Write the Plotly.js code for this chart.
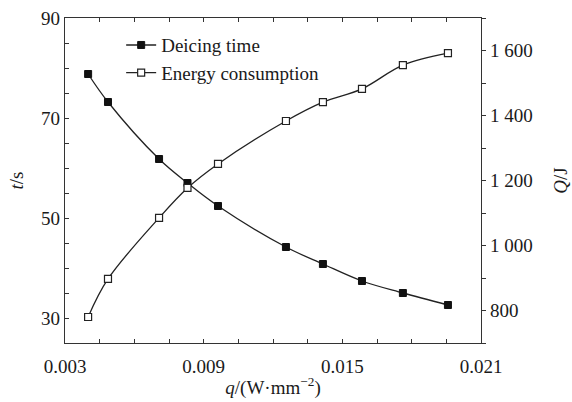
<!DOCTYPE html>
<html>
<head>
<meta charset="utf-8">
<script src="https://cdn.plot.ly/plotly-3.0.1.min.js"></script>
<style>html,body{margin:0;padding:0;background:#fff;}#chart{width:572px;height:402px;}</style>
</head>
<body>
<div id="chart"></div>
<script>
// Heat flux density q (W·mm^-2)
const qValues = [0.0040, 0.00486, 0.00707, 0.00830, 0.00962, 0.01256, 0.01416, 0.01585, 0.01762, 0.01957];
// Deicing time t (s)
const deicingTime = [78.8, 73.2, 61.8, 57.0, 52.4, 44.2, 40.8, 37.4, 35.0, 32.6];
// Energy consumption Q (J)
const energyConsumption = [780, 897, 1085, 1177, 1251, 1383, 1441, 1482, 1555, 1592];
const seriesNames = ["Deicing time", "Energy consumption"];

const font = {family: "Liberation Serif, Times New Roman, serif", size: 19, color: "#1a1a1a"};

const traces = [
  {
    x: qValues, y: deicingTime, name: seriesNames[0], type: "scatter", mode: "lines+markers",
    line: {shape: "spline", color: "#222", width: 1.3},
    marker: {symbol: "square", size: 7, color: "#111", line: {color: "#111", width: 1}},
    xaxis: "x", yaxis: "y"
  },
  {
    x: qValues, y: energyConsumption, name: seriesNames[1], type: "scatter", mode: "lines+markers",
    line: {shape: "spline", color: "#222", width: 1.3},
    marker: {symbol: "square", size: 7, color: "#fff", line: {color: "#222", width: 1.2}},
    xaxis: "x", yaxis: "y2"
  }
];

const layout = {
  width: 572, height: 402,
  margin: {l: 65, r: 91, t: 18, b: 59},
  paper_bgcolor: "#fff", plot_bgcolor: "#fff",
  font: font,
  separators: ". ",
  showlegend: true,
  legend: {x: 0.135, y: 0.975, xanchor: "left", yanchor: "top", bgcolor: "rgba(0,0,0,0)",
           font: {family: font.family, size: 19, color: "#1a1a1a"}, tracegroupgap: 0},
  xaxis: {
    range: [0.003, 0.021], tick0: 0.003, dtick: 0.006, tickformat: ".3f",
    ticks: "inside", ticklen: 4, tickwidth: 1, tickcolor: "#333",
    minor: {dtick: 0.0015, ticks: "inside", ticklen: 4, tickcolor: "#333"},
    showline: true, linecolor: "#333", linewidth: 1.3, mirror: "ticks",
    showgrid: false, zeroline: false, ticklabelstandoff: 6,
    title: {text: "<i>q</i>/(W·mm<sup>−2</sup>)", font: font, standoff: 4},
    tickfont: font
  },
  yaxis: {
    range: [25, 90], tick0: 10, dtick: 20,
    ticks: "inside", ticklen: 4, tickwidth: 1, tickcolor: "#333",
    minor: {dtick: 5, ticks: "inside", ticklen: 4, tickcolor: "#333"},
    showline: true, linecolor: "#333", linewidth: 1.3, mirror: false,
    showgrid: false, zeroline: false,
    title: {text: "<i>t</i>/s", font: font, standoff: 12},
    tickfont: font
  },
  yaxis2: {
    overlaying: "y", side: "right",
    range: [700, 1700], tick0: 800, dtick: 200, separatethousands: true,
    ticks: "outside", ticklen: 4, tickwidth: 1, tickcolor: "#333",
    minor: {dtick: 100, ticks: "outside", ticklen: 4, tickcolor: "#333"},
    showline: true, linecolor: "#333", linewidth: 1.3,
    showgrid: false, zeroline: false,
    title: {text: "<i>Q</i>/J", font: font, standoff: 22},
    tickfont: font
  }
};

Plotly.newPlot("chart", traces, layout, {displayModeBar: false, staticPlot: true});
</script>
</body>
</html>
